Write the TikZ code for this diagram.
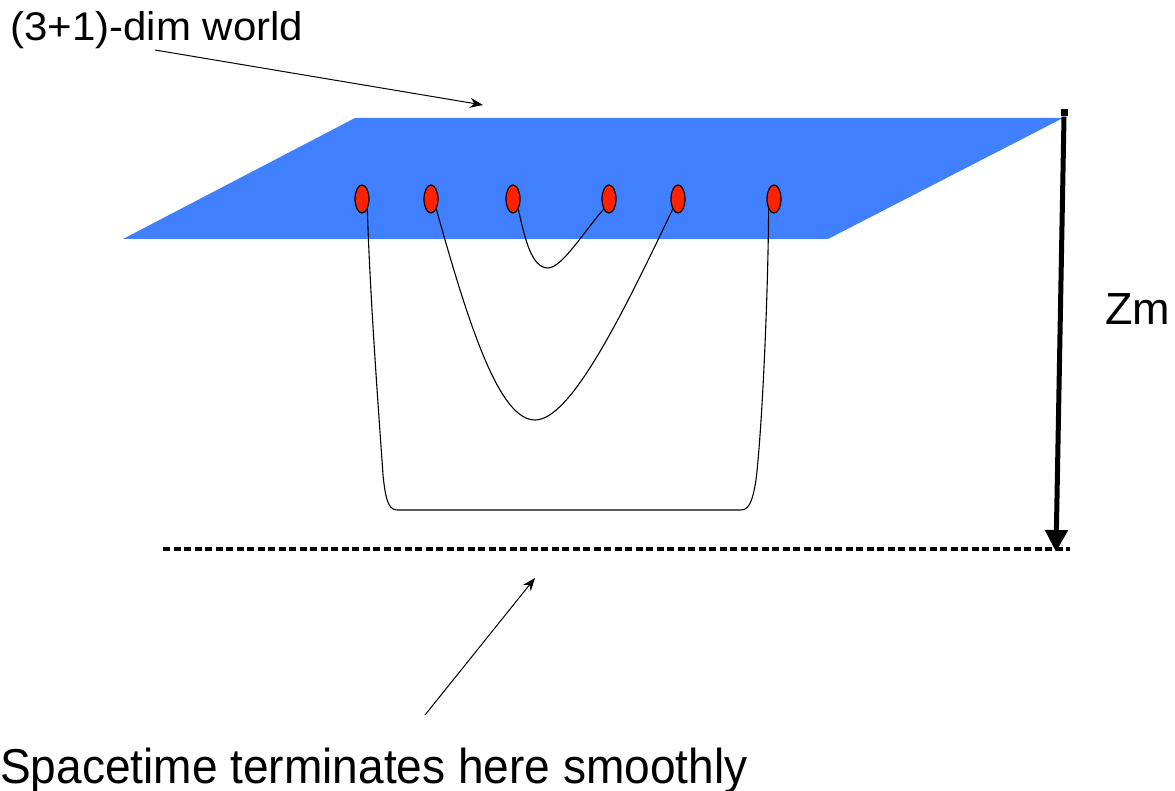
\documentclass[tikz,border=0pt]{standalone}
\usepackage{fontspec}
\setmainfont{Liberation Sans}
\usetikzlibrary{arrows.meta,shapes.geometric}
\definecolor{planeblue}{HTML}{4080FF}
\definecolor{dotred}{HTML}{FF2200}
\begin{document}
\begin{tikzpicture}[x=1pt,y=-1pt,
  charge/.style={ellipse,draw=black,line width=1.2pt,fill=dotred,minimum width=14pt,minimum height=28pt,inner sep=0pt},
  string/.style={draw=black,line width=1.1pt},
  pointer/.style={draw=black,line width=1pt,-{Stealth[length=13pt,width=10pt]}},
  lbl/.style={inner sep=0pt,anchor=base west}]
\useasboundingbox (0,0) rectangle (1175,791);
% plane
\fill[planeblue] (355,118) -- (1063,118) -- (828,239) -- (123,239) -- cycle;
% charges
\node[charge] (c1) at (362,199) {};
\node[charge] (c2) at (431,199) {};
\node[charge] (c3) at (513,199) {};
\node[charge] (c4) at (609,199) {};
\node[charge] (c5) at (678,199) {};
\node[charge] (c6) at (774,199) {};
% strings
\draw[string] (c1.south east) .. controls (370,300) and (380,430) .. (383,475)
  .. controls (386,505) and (390,510) .. (398,510) -- (740,510)
  .. controls (748,510) and (752,505) .. (756,480)
  .. controls (762,430) and (768,300) .. (c6.south west);
\draw[string] (c2.south east) .. controls (470,330) and (500,420) .. (535,420)
  .. controls (570,420) and (620,320) .. (c5.south west);
\draw[string] (c3.south east) .. controls (525,240) and (532,268) .. (548,268)
  .. controls (562,268) and (585,230) .. (c4.south west);
% depth arrow
\node[fill=black,minimum size=7pt,inner sep=0pt] (top) at (1064,113) {};
\coordinate (bot) at (1056,552);
\draw[line width=5pt,-{Triangle[length=22pt,width=22pt]}] (top.south) -- (bot);
\node[lbl,font=\fontsize{45}{48}\selectfont] (zm) at (1105,325) {Zm};
% termination line
\coordinate (dl) at (163,549);
\coordinate (dr) at (1070,549);
\draw[line width=4pt,dash pattern=on 7pt off 3.5pt] (dl) -- (dr);
% labels
\node[lbl,font=\fontsize{40}{44}\selectfont] (world) at (10,41) {\scalebox{1.05}[1]{(3+1)-dim world}};
\coordinate (wa) at (483,105);
\draw[pointer] (155,50) -- (wa);
\node[lbl,font=\fontsize{49}{52}\selectfont] (st) at (0,783) {\scalebox{0.94}[1]{Spacetime terminates here smoothly}};
\coordinate (sa) at (535,578);
\draw[pointer] (425,715) -- (sa);
\end{tikzpicture}
\end{document}
